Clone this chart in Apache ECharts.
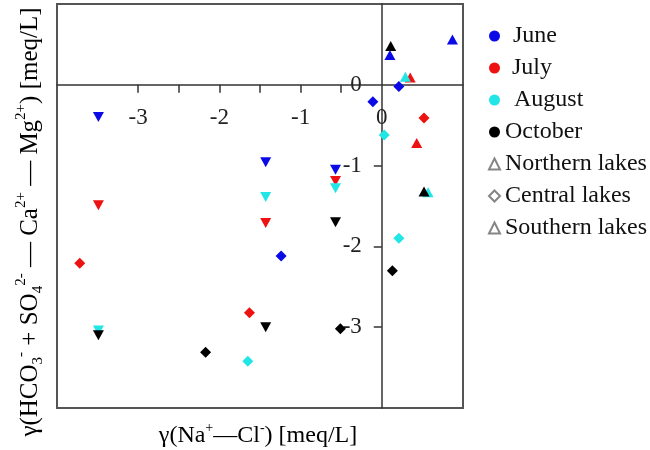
<!DOCTYPE html>
<html>
<head>
<meta charset="utf-8">
<script src="https://cdn.jsdelivr.net/npm/echarts@6/dist/echarts.min.js"></script>
<style>html,body{margin:0;padding:0;background:#fff}#c{width:650px;height:450px}</style>
</head>
<body>
<div id="c"></div>
<script>
// ---- data (x = γ(Na+ − Cl−), y = γ(HCO3− + SO4²− − Ca²+ − Mg²+), meq/L) ----
const months = ['June', 'July', 'August', 'October'];
const lakeTypes = ['Northern lakes', 'Central lakes', 'Southern lakes'];

const juneNorth = [[0.10, 0.37], [0.87, 0.56]];
const juneCentral = [[-0.11, -0.21], [0.21, -0.02], [-1.24, -2.12]];
const juneSouth = [[-3.49, -0.40], [-1.43, -0.96], [-0.57, -1.05]];

const julyNorth = [[0.43, -0.72], [0.35, 0.09]];
const julyCentral = [[0.52, -0.41], [-3.72, -2.21], [-1.63, -2.82]];
const julySouth = [[-3.49, -1.49], [-1.43, -1.71], [-0.57, -1.19]];

const augNorth = [[0.29, 0.10], [0.57, -1.33]];
const augCentral = [[0.03, -0.62], [0.21, -1.90], [-1.65, -3.42]];
const augSouth = [[-3.49, -3.04], [-1.43, -1.39], [-0.57, -1.28]];

const octNorth = [[0.11, 0.48], [0.52, -1.32]];
const octCentral = [[0.13, -2.30], [-0.51, -3.02], [-2.17, -3.31]];
const octSouth = [[-3.49, -3.10], [-1.43, -3.00], [-0.57, -1.70]];

const xTickValues = [-3, -2.5, -2, -1.5, -1, -0.5];
const xLabelValues = [-3, -2, -1, 0];
const yTickValues = [-3, -2, -1];
const yLabelValues = [-3, -2, -1, 0];

// ---- styling ----
const FONT = 'Liberation Serif';
const colors = { June: '#0a0ae6', July: '#ee1111', August: '#22e6e6', October: '#000000' };
const groups = {
  June: [juneNorth, juneCentral, juneSouth],
  July: [julyNorth, julyCentral, julySouth],
  August: [augNorth, augCentral, augSouth],
  October: [octNorth, octCentral, octSouth]
};
const shapeFor = [
  { symbol: 'triangle', symbolRotate: 0, symbolSize: [11, 10] },
  { symbol: 'diamond', symbolRotate: 0, symbolSize: [11, 11] },
  { symbol: 'triangle', symbolRotate: 180, symbolSize: [11, 10] }
];

function buildData(m) {
  const out = [];
  groups[m].forEach((arr, gi) => {
    arr.forEach(p => {
      out.push(Object.assign({ value: p }, shapeFor[gi]));
    });
  });
  return out;
}

const drawOrder = ['July', 'August', 'October', 'June'];
const series = drawOrder.map(m => ({
  name: m,
  type: 'scatter',
  data: buildData(m),
  itemStyle: { color: colors[m], opacity: 1 },
  emphasis: { disabled: true }
}));
lakeTypes.forEach((n, i) => {
  series.push({
    name: n, type: 'scatter', data: [],
    symbol: i === 1 ? 'diamond' : 'triangle',
    itemStyle: { color: '#fff', borderColor: '#666', borderWidth: 1 }
  });
});

const GRID = { left: 57, top: 4, width: 406, height: 404 };
const XMIN = -4, XMAX = 1, YMIN = -4, YMAX = 1;
// axes drawn through the origin: shift top / right axes inward to the zero position
const xAxisOffset = -GRID.height * (YMAX - 0) / (YMAX - YMIN);
const yAxisOffset = -GRID.width * (XMAX - 0) / (XMAX - XMIN);

const chart = echarts.init(document.getElementById('c'), null, { renderer: 'canvas' });
const axisLabelStyle = { fontFamily: FONT, fontSize: 23, color: '#222' };

chart.setOption({
  animation: false,
  backgroundColor: '#fff',
  grid: Object.assign({ show: true, borderColor: '#555', borderWidth: 2, backgroundColor: 'transparent' }, GRID),
  xAxis: {
    type: 'value', min: XMIN, max: XMAX, position: 'top', offset: xAxisOffset,
    axisLine: { onZero: false, lineStyle: { color: '#333', width: 1.5 } },
    axisTick: { show: true, inside: true, length: 8, customValues: xTickValues, lineStyle: { color: '#333', width: 1.5 } },
    axisLabel: Object.assign({ inside: true, margin: 22, customValues: xLabelValues, formatter: v => String(v) }, axisLabelStyle),
    splitLine: { show: false }
  },
  yAxis: {
    type: 'value', min: YMIN, max: YMAX, position: 'right', offset: yAxisOffset,
    axisLine: { onZero: false, lineStyle: { color: '#333', width: 1.5 } },
    axisTick: { show: true, inside: true, length: 8, customValues: yTickValues, lineStyle: { color: '#333', width: 1.5 } },
    axisLabel: Object.assign({ inside: true, margin: 20, customValues: yLabelValues, formatter: v => String(v) }, axisLabelStyle),
    splitLine: { show: false }
  },
  legend: {
    orient: 'vertical', left: 483, top: 19,
    itemWidth: 11, itemHeight: 11, itemGap: 8,
    textStyle: { fontFamily: FONT, fontSize: 24, color: '#111' },
    selectedMode: false,
    data: [
      { name: 'June', icon: 'circle', textStyle: { padding: [0, 0, 0, 8] } },
      { name: 'July', icon: 'circle', textStyle: { padding: [0, 0, 0, 7] } },
      { name: 'August', icon: 'circle', textStyle: { padding: [0, 0, 0, 9] } },
      { name: 'October', icon: 'circle' },
      { name: 'Northern lakes', icon: 'triangle', itemWidth: 9, itemHeight: 9 },
      { name: 'Central lakes', icon: 'diamond', itemWidth: 9, itemHeight: 9 },
      { name: 'Southern lakes', icon: 'triangle', itemWidth: 9, itemHeight: 9 }
    ]
  },
  graphic: [
    {
      type: 'text', x: 258, y: 436,
      style: {
        text: '{n|γ(Na}{s|+}{n|—Cl}{s|-}{n|) [meq/L]}',
        textAlign: 'center', textVerticalAlign: 'middle',
        rich: {
          n: { fontFamily: FONT, fontSize: 24, color: '#222', lineHeight: 30 },
          s: { fontFamily: FONT, fontSize: 14, color: '#222', verticalAlign: 'top', lineHeight: 30, padding: [0, 0, 12, 0] }
        }
      }
    },
    {
      type: 'text', x: 30, y: 222, rotation: Math.PI / 2,
      style: {
        text: '{n|γ(HCO}{b|3}{s|-}{n| + SO}{b|4}{s|2-}{n| — Ca}{s|2+}{n| — Mg}{s|2+}{n|) [meq/L]}',
        textAlign: 'center', textVerticalAlign: 'middle',
        rich: {
          n: { fontFamily: FONT, fontSize: 25, color: '#222', lineHeight: 32 },
          s: { fontFamily: FONT, fontSize: 15, color: '#222', verticalAlign: 'top', lineHeight: 32, padding: [0, 0, 12, 0] },
          b: { fontFamily: FONT, fontSize: 15, color: '#222', verticalAlign: 'bottom', lineHeight: 32, padding: [10, 0, 0, 0] }
        }
      }
    }
  ],
  series: series
});
</script>
</body>
</html>
